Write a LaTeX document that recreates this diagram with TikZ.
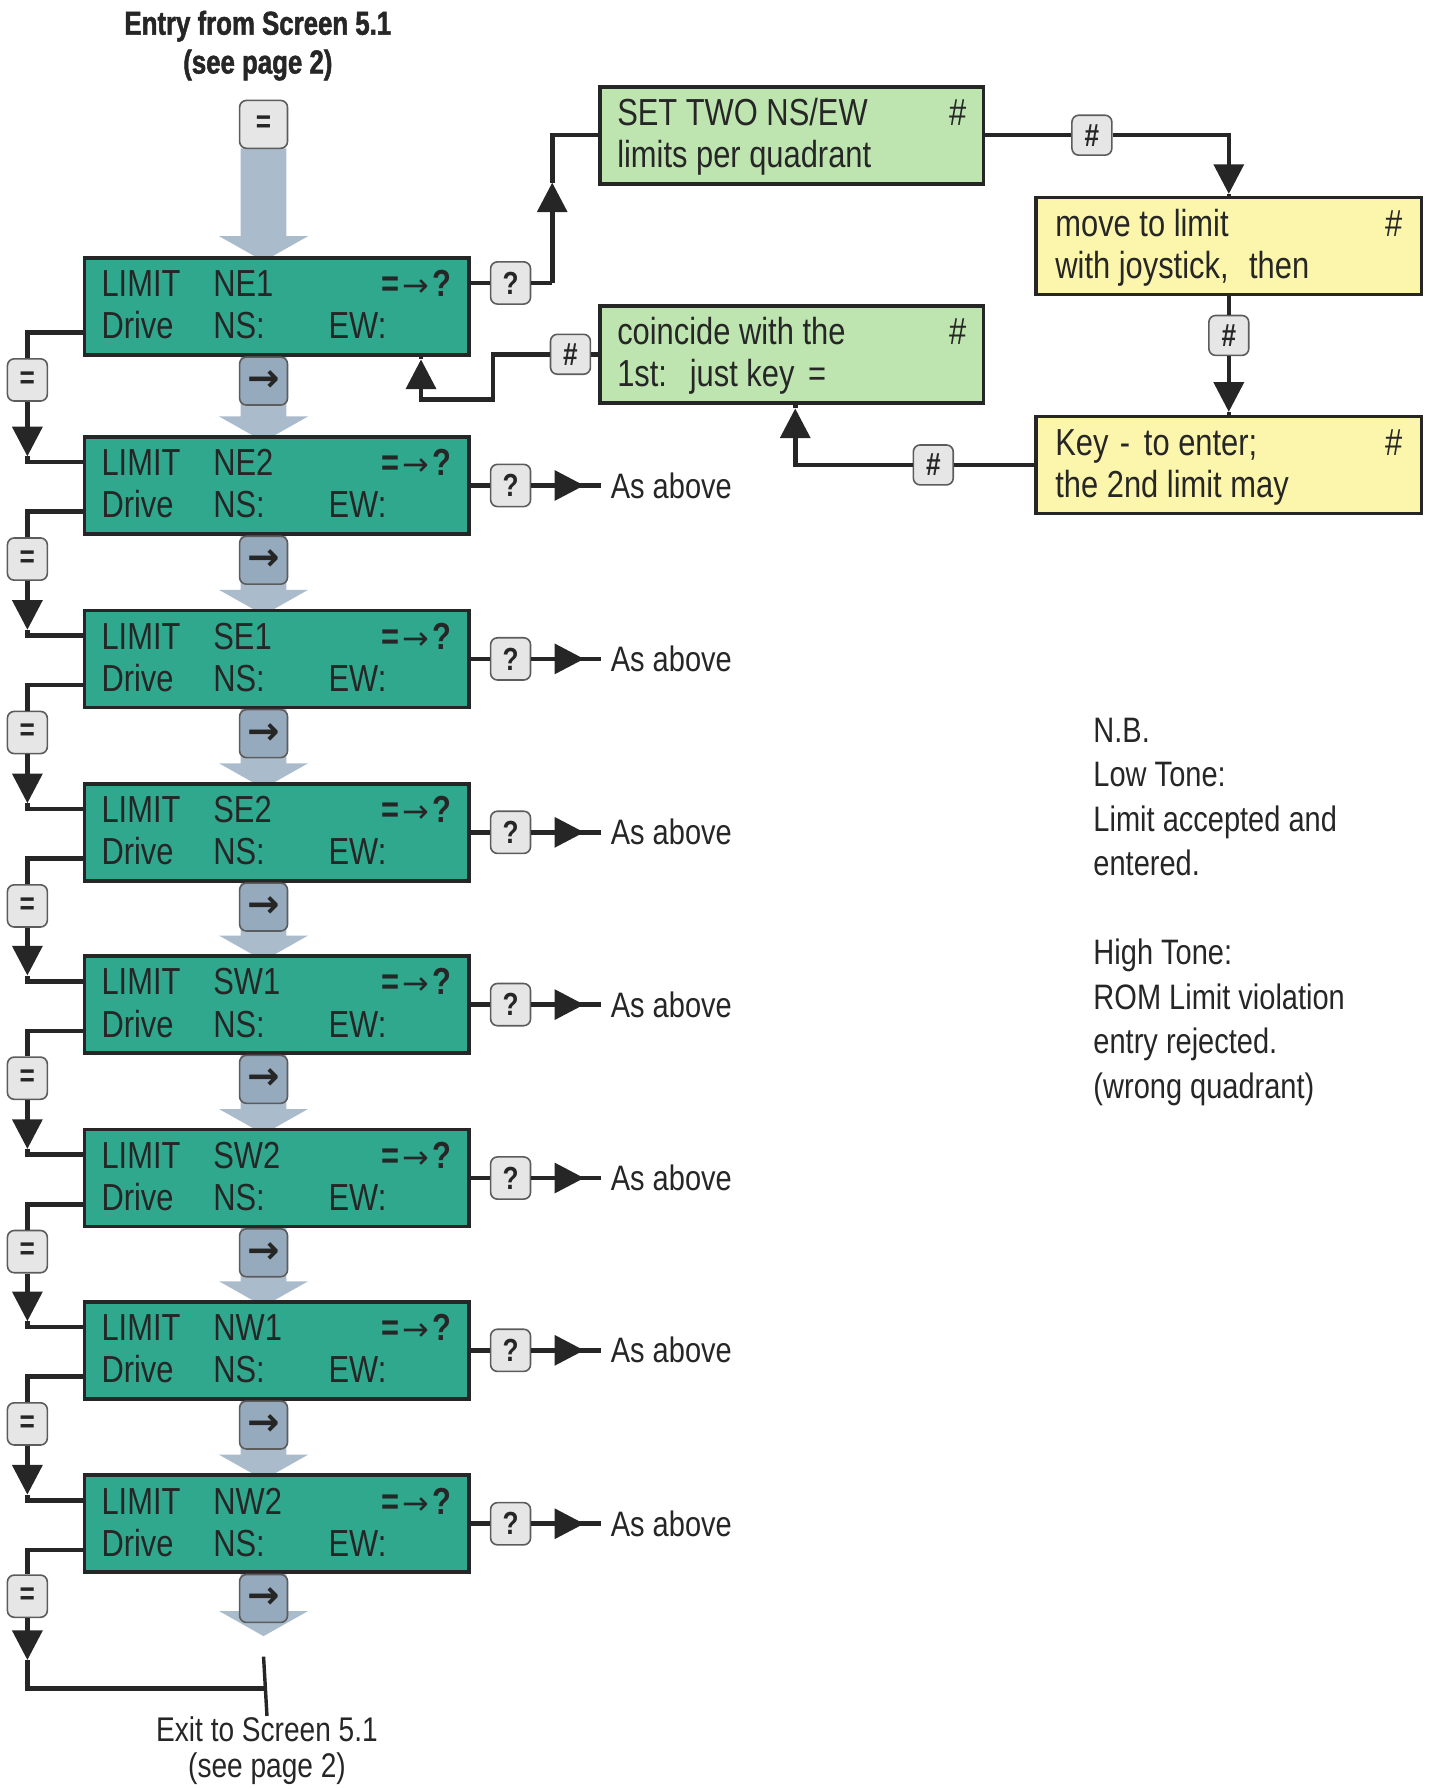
\documentclass[tikz,border=0pt]{standalone}
\usepackage{fontspec}
\setmainfont{Liberation Sans}[FakeStretch=0.82]
\newfontfamily\titlefont{Liberation Sans}[FakeStretch=0.78,FakeBold=1.5]
\newfontfamily\symfont{DejaVu Sans}
\usetikzlibrary{arrows.meta}
\definecolor{tealbox}{RGB}{48,168,142}
\definecolor{greenbox}{RGB}{190,228,176}
\definecolor{yellowbox}{RGB}{252,246,172}
\definecolor{keygrey}{RGB}{230,230,230}
\definecolor{keyblue}{RGB}{150,170,190}
\definecolor{flowblue}{RGB}{170,188,204}
\definecolor{ink}{RGB}{38,38,38}
\newcommand\lcdtxt[3][153.5pt]{\parbox[c][42.5pt][t]{#1}{\fontsize{16.5}{18.5}\selectfont\hbox to #1{\rule{0pt}{17pt}#2}\hbox to #1{#3\hfil}}}
\newcommand\eqarrq{\textbf{=}\kern1.5pt{\symfont\fontsize{14}{14}\selectfont →}\kern1.5pt\textbf{?}}
\begin{document}
\begin{tikzpicture}[x=0.5pt,y=-0.5pt,
  every node/.style={inner sep=0pt, text=ink},
  lcd/.style={draw=ink, line width=1.6pt, fill=tealbox, minimum width=168.5pt, minimum height=42.5pt},
  greenlcd/.style={lcd, fill=greenbox, minimum width=168pt},
  yellowlcd/.style={lcd, fill=yellowbox, minimum width=169pt},
  key/.style={draw=ink!75, line width=0.7pt, fill=keygrey, rounded corners=3pt, minimum width=17.5pt, minimum height=18.5pt, font=\bfseries\fontsize{14}{14}\selectfont},
  hashkey/.style={key, minimum height=17.5pt},
  arrkey/.style={key, fill=keyblue, minimum width=21pt, minimum height=21pt, font=\symfont\bfseries\fontsize{17}{17}\selectfont},
  topkey/.style={key, minimum width=21pt, minimum height=21pt},
  conn/.style={draw=ink, line width=2pt},
  tip/.style={conn, -{Triangle[width=13pt,length=13pt]}},
  note/.style={font=\fontsize{15.5}{19.5}\selectfont}
]
\useasboundingbox (0,0) rectangle (1256,1568);

% title
\node[anchor=north, align=center, font=\titlefont\bfseries\fontsize{14.5}{17}\selectfont] (title) at (226,9) {Entry from Screen 5.1\\(see page 2)};

% broad shaded flow arrows
\fill[flowblue] (211,130) -- (251,130) -- (251,207) -- (270,207) -- (231,229) -- (192,207) -- (211,207) -- cycle;
\foreach \top/\ntop in {226/383,383/535,535/687,687/838,838/990,990/1141,1141/1293,1293/1430}{
  \fill[flowblue] (211,\top+85) -- (251,\top+85) -- (251,\ntop-18) -- (270,\ntop-18) -- (231,\ntop+4) -- (192,\ntop-18) -- (211,\ntop-18) -- cycle;
}
\coordinate (ft) at (231,1452);

% LCD boxes
\foreach \lab/\top [count=\i] in {NE1/226,NE2/383,SE1/535,SE2/687,SW1/838,SW2/990,NW1/1141,NW2/1293}{
  \node[lcd] (b\i) at (242.5,\top+42.5) {\lcdtxt{\makebox[49pt][l]{LIMIT}\lab\hfill\eqarrq}{\makebox[49pt][l]{Drive}\makebox[50.5pt][l]{NS:}EW:}};
}

% top entry key
\node[topkey] (top) at (231,109) {=};

% keys and left loops
\foreach \i/\top/\ntop in {1/226/383,2/383/535,3/535/687,4/687/838,5/838/990,6/990/1141,7/1141/1293}{
  \pgfmathtruncatemacro\j{\i+1}
  \node[key] (e\i) at (24,\top+107) {=};
  \node[arrkey] (k\i) at (231,\top+108) {→};
  \coordinate (t\i) at (24,\ntop+17);
  \coordinate (c\i) at (24,\ntop+22);
  \draw[conn] ([yshift=-11.5pt]b\i.west) -| (e\i.north);
  \draw[tip] (e\i.south) -- (t\i);
  \draw[conn] (t\i) -- (c\i) -- ([yshift=10.25pt]b\j.west);
}
% last box to exit
\node[key] (e8) at (24,1399) {=};
\node[arrkey] (k8) at (231,1401) {→};
\coordinate (t8) at (24,1455);
\coordinate (c8) at (24,1480);
\coordinate (ej) at (231,1480);
\node[anchor=north, align=center, font=\fontsize{15}{16}\selectfont] (exit) at (234,1504) {Exit to Screen 5.1\\(see page 2)};
\draw[conn] ([yshift=-11.5pt]b8.west) -| (e8.north);
\draw[tip] (e8.south) -- (t8);
\draw[conn] (t8) -- (c8) -- (ej);
\draw[conn, line width=1.5pt] (ft) -- (exit.north);

% "As above" branches
\foreach \i/\cy in {2/425.5,3/577.5,4/729.5,5/880.5,6/1032.5,7/1183.5,8/1335.5}{
  \node[key] (q\i) at (447.5,\cy) {?};
  \node[anchor=west, inner xsep=4pt, font=\fontsize{15.5}{16}\selectfont] (a\i) at (527,\cy) {As above};
  \draw[conn] (b\i.east) -- (q\i.west);
  \draw[conn] (q\i.east) -- (a\i.west);
  \draw[tip] (q\i.east) -- ([xshift=-7.5pt]a\i.west);
}

% setting boxes
\node[greenlcd] (set) at (694,118.5) {\lcdtxt[153pt]{SET TWO NS/EW\hfill\#}{limits per quadrant}};
\node[greenlcd] (g2) at (694,310.5) {\lcdtxt[153pt]{coincide with the\hfill\#}{1st:\hspace{10pt}just key\hspace{6pt}=}};
\node[yellowlcd] (y1) at (1077,215.5) {\lcdtxt[152pt]{move to limit\hfill\#}{with joystick,\hspace{9pt}then}};
\node[yellowlcd] (y2) at (1077,407.5) {\lcdtxt[152pt]{Key\hspace{5pt}-\hspace{6pt}to enter;\hfill\#}{the 2nd limit may}};

% NE1 "?" to SET
\node[key] (q1) at (447.5,248) {?};
\coordinate (u1) at (484,248);
\coordinate (u2) at (484,160);
\draw[conn] (b1.east |- q1.west) -- (q1.west);
\draw[conn] (q1.east) -- (u1);
\draw[tip] (u1) -- (u2);
\draw[conn] (u2) |- (set.west);

% SET to yellow 1
\node[hashkey] (h1) at (957,118.5) {\#};
\coordinate (d2) at (1077,170);
\draw[conn] (set.east) -- (h1.west);
\draw[tip] (h1.east) -| (d2);
\draw[conn] (d2) -- (y1.north);

% yellow 1 to yellow 2
\node[hashkey] (h2) at (1077,294) {\#};
\coordinate (d3) at (1077,361);
\draw[conn] (y1.south) -- (h2.north);
\draw[tip] (h2.south) -- (d3);
\draw[conn] (d3) -- (y2.north);

% yellow 2 to coincide box
\node[hashkey] (h3) at (818,407.5) {\#};
\coordinate (d4) at (697,358);
\draw[conn] (y2.west) -- (h3.east);
\draw[tip] (h3.west) -| (d4);
\draw[conn] (d4) -- (d4 |- g2.south);

% coincide box back to NE1
\node[hashkey] (h4) at (500,310.5) {\#};
\coordinate (d6) at (432,350);
\coordinate (d5) at (369,315);
\draw[conn] (g2.west) -- (h4.east);
\draw[tip] (h4.west) -| (d6) -| (d5);
\draw[conn] (d5) -- (d5 |- b1.south);

% note
\node[anchor=north west, align=left, note] (nb) at (958,629) {N.B.\\Low Tone:\\Limit accepted and\\entered.\\[19.5pt]High Tone:\\ROM Limit violation\\entry rejected.\\(wrong quadrant)};
\end{tikzpicture}
\end{document}
